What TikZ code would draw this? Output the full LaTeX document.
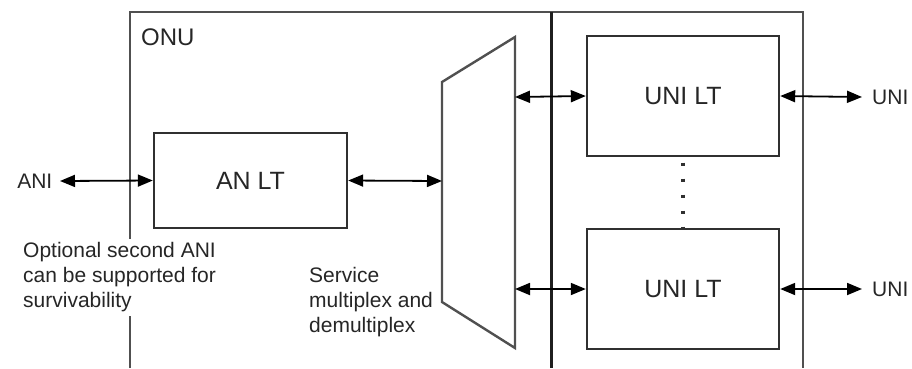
\documentclass[tikz,border=0pt]{standalone}
\usepackage{fontspec}
\setmainfont{Liberation Sans}
\usetikzlibrary{arrows.meta}
\definecolor{ink}{HTML}{262626}
\definecolor{framegray}{HTML}{505050}
\definecolor{boxgray}{HTML}{303030}
\begin{document}
\begin{tikzpicture}[x=1pt,y=-1pt,
  block/.style={draw=boxgray,line width=2.4pt,inner sep=0pt,text=ink,
    font=\fontsize{25}{30}\selectfont},
  lbl/.style={text=ink,font=\fontsize{21}{25}\selectfont,inner sep=0pt},
  biarrow/.style={line width=1.8pt,draw=black,
    {Triangle[length=15pt,width=12pt]}-{Triangle[length=15pt,width=12pt]}}]
  \useasboundingbox (0,0) rectangle (912,368);

  % ONU enclosure (open at the bottom) and the internal divider
  \draw[framegray,line width=2.6pt] (130,368) |- (803,12) -- (803,368);
  \draw[black!88,line width=3pt] (551,12) -- (551,368);
  \node[lbl,font=\fontsize{24}{28}\selectfont,anchor=west] (onu) at (141,37.5) {ONU};

  % line-termination blocks
  \node[block,minimum width=193pt,minimum height=95pt] (anlt) at (250.5,180.5) {AN LT};
  \node[block,minimum width=192pt,minimum height=120pt] (unia) at (683,96) {UNI LT};
  \node[block,minimum width=192pt,minimum height=120pt] (unib) at (683,289) {UNI LT};
  \draw[boxgray,line width=3.2pt,dash pattern=on 3pt off 13pt,dash phase=10.5pt]
    (unia.south) -- (unib.north);

  % service multiplexer
  \coordinate (mxtl) at (442,82);
  \coordinate (mxtr) at (515,37);
  \coordinate (mxbr) at (515,348);
  \coordinate (mxbl) at (442,302);
  \draw[framegray,line width=2.4pt,line join=miter] (mxtl) -- (mxtr) -- (mxbr) -- (mxbl) -- cycle;
  \coordinate (mxin) at (442,181);
  \coordinate (mxouta) at (515,97);
  \coordinate (mxoutb) at (515,289);

  % interface labels
  \node[lbl,anchor=east,inner xsep=7.5pt] (ani) at (60,181) {ANI};
  \node[lbl,anchor=west,inner xsep=10pt] (unio) at (862,97) {UNI};
  \node[lbl,anchor=west,inner xsep=10pt] (unit) at (862,289) {UNI};

  % notes
  \node[lbl,anchor=north west,align=left,fill=white,inner sep=4pt] (note) at (19,238.5)
    {Optional second ANI\\can be supported for\\survivability};
  \node[lbl,anchor=north west,align=left] (svc) at (309,267.5)
    {Service\\multiplex and\\demultiplex};

  % connectors
  \draw[biarrow] (ani.east) -- (anlt.west);
  \draw[biarrow] (anlt.east) -- (mxin);
  \draw[biarrow] (mxouta) -- (unia.west);
  \draw[biarrow] (mxoutb) -- (unib.west);
  \draw[biarrow] (unia.east) -- (unio.west);
  \draw[biarrow] (unib.east) -- (unit.west);
\end{tikzpicture}
\end{document}
